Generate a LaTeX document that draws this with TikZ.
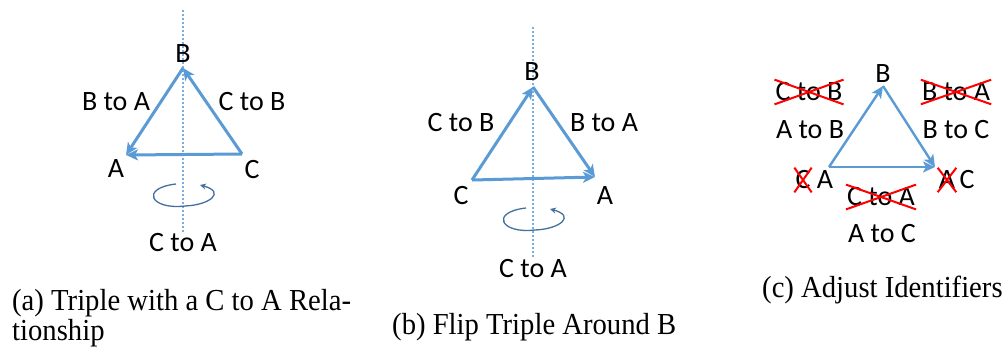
\documentclass[tikz,border=0pt]{standalone}
\usepackage{fontspec}
\setmainfont{Liberation Serif}
\newfontfamily\lblfamily{Carlito}
\usetikzlibrary{arrows.meta}

\definecolor{office}{HTML}{5B9BD5}
\definecolor{turnblue}{HTML}{41719C}
\newcommand\lblfont{\lblfamily\fontsize{28}{32}\selectfont}
\newcommand\capfont{\fontsize{30.5}{30}\selectfont}
\newcommand\captext[1]{\scalebox{0.94}[1]{#1}}

\begin{document}
\begin{tikzpicture}[x=1pt,y=-1pt,
  edge/.style={office, line width=3pt, -{Stealth[length=12pt,width=11pt,inset=3pt]}},
  thinedge/.style={edge, line width=2.4pt},
  axis/.style={office!80, line width=1.2pt, dash pattern=on 2pt off 2pt},
  turn/.style={turnblue, line width=1.3pt, -{Stealth[length=6pt,width=6pt]}},
  lbl/.style={font=\lblfont, inner sep=0pt},
  cut/.style={lbl, inner xsep=1pt, inner ysep=3pt},
  xline/.style={red, line width=2pt},
  caption/.style={font=\capfont, inner sep=0pt, anchor=base west}
]
  \useasboundingbox (0,0) rectangle (1008,354);

  % (a) triple with a C to A relationship
  \draw[axis] (183,10) -- (183,232);
  \coordinate (aB) at (183,68);
  \coordinate (aA) at (126,155);
  \coordinate (aC) at (242,154);
  \draw[edge] (aB) -- (aA);
  \draw[edge] (aC) -- (aA);
  \draw[edge] (aC) -- (aB);
  \node[lbl] (aBl) at (183,54) {B};
  \node[lbl] (aAl) at (116,169) {A};
  \node[lbl] (aCl) at (252,170) {C};
  \node[lbl] (aBA) at (116,102) {B to A};
  \node[lbl] (aCB) at (252,102) {C to B};
  \node[lbl] (aCA) at (183,243) {C to A};
  \coordinate (aT0) at (176,184);
  \coordinate (aT1) at (200,185);
  \draw[turn] (aT0) .. controls (140,188) and (150,210) .. (185,206)
    .. controls (210,205) and (226,192) .. (aT1);

  % (b) flip around B
  \draw[axis] (533,27) -- (533,257);
  \coordinate (bB) at (533,87);
  \coordinate (bC) at (472,180);
  \coordinate (bA) at (595,177);
  \draw[edge] (bC) -- (bB);
  \draw[edge] (bB) -- (bA);
  \draw[edge] (bC) -- (bA);
  \node[lbl] (bBl) at (532,72) {B};
  \node[lbl] (bCl) at (461,196) {C};
  \node[lbl] (bAl) at (605,196) {A};
  \node[lbl] (bCB) at (461,123) {C to B};
  \node[lbl] (bBA) at (604,123) {B to A};
  \node[lbl] (bCA) at (533,269) {C to A};
  \coordinate (bT0) at (526,208);
  \coordinate (bT1) at (550,209);
  \draw[turn] (bT0) .. controls (490,212) and (500,234) .. (535,230)
    .. controls (560,229) and (576,216) .. (bT1);

  % (c) adjust identifiers
  \coordinate (cB) at (883,86);
  \coordinate (cA) at (829,167);
  \coordinate (cC) at (935,167);
  \draw[thinedge] (cA) -- (cB);
  \draw[thinedge] (cB) -- (cC);
  \draw[thinedge] (cA) -- (cC);
  \node[lbl] (cBl) at (883,74) {B};
  \node[cut] (cCB) at (809,92) {C to B};
  \node[lbl] (cAB) at (810,130) {A to B};
  \node[cut] (cBA) at (956,92) {B to A};
  \node[lbl] (cBC) at (956,130) {B to C};
  \node[cut] (cXC) at (803,180) {C};
  \node[lbl] (cAl) at (825,180) {A};
  \node[cut] (cXA) at (947,180) {A};
  \node[lbl] (cCl) at (967,180) {C};
  \node[cut] (cCA) at (881,197) {C to A};
  \node[lbl] (cAC) at (882,234) {A to C};
  \foreach \n in {cCB,cBA,cXC,cXA,cCA}
    \draw[xline] (\n.south west) -- (\n.north east)
      (\n.north west) -- (\n.south east);

  % captions
  \node[caption] (capA) at (12,310) {\captext{(a) Triple with a C to A Rela-}};
  \node[caption] (capA2) at (12,340) {\captext{tionship}};
  \node[caption] (capB) at (392,334) {\captext{(b) Flip Triple Around B}};
  \node[caption] (capC) at (762,297) {\captext{(c) Adjust Identifiers}};
\end{tikzpicture}
\end{document}
